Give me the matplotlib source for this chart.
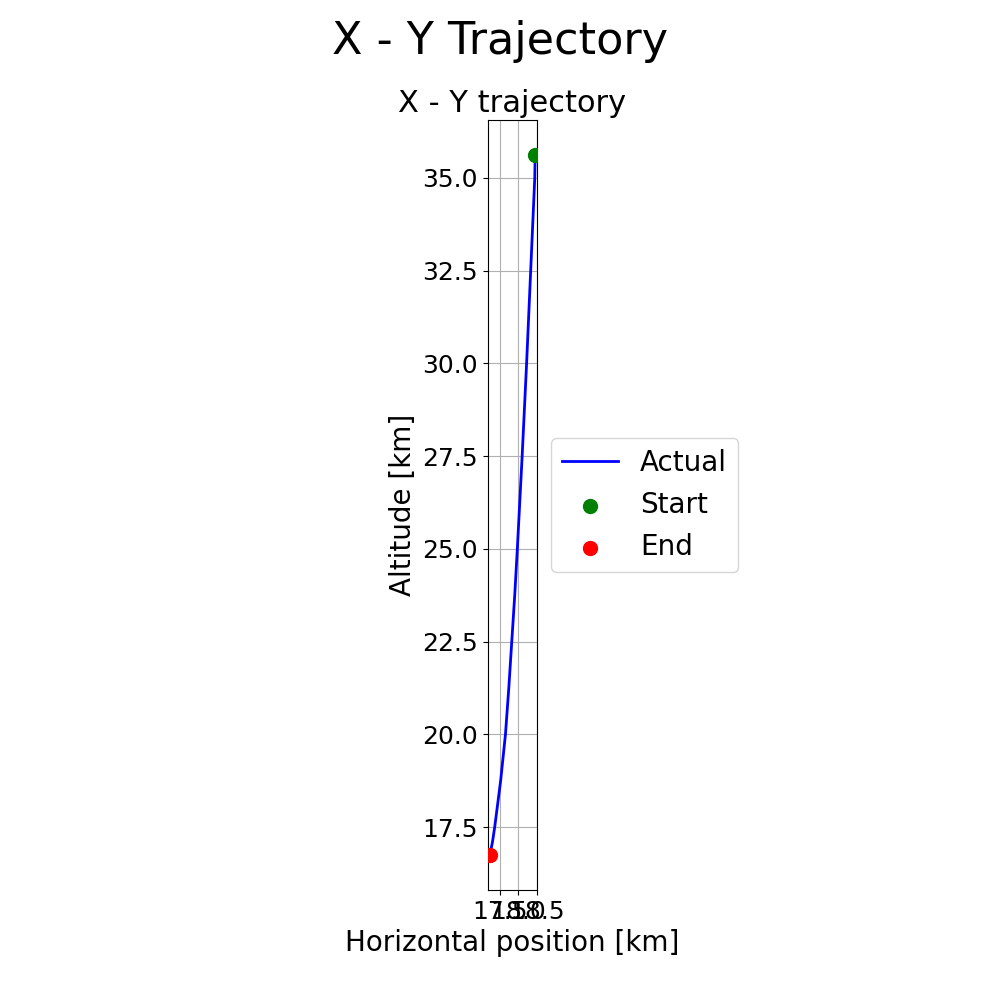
import matplotlib
matplotlib.use("Agg")
import matplotlib.pyplot as plt

# Trajectory (horizontal position vs altitude, km)
altitude_km = [35.62, 35.0, 33.75, 32.5, 31.25, 30.0, 28.75, 27.5, 26.25, 25.0,
               23.75, 22.5, 21.25, 20.0, 18.75, 17.5, 17.1, 16.75]
horizontal_km = [18.45, 18.44, 18.385, 18.33, 18.275, 18.22, 18.16, 18.10, 18.035, 17.97,
                 17.90, 17.82, 17.74, 17.65, 17.52, 17.36, 17.30, 17.23]
x_ticks = [17.5, 18.0, 18.5]

fig = plt.figure(figsize=(10, 10), dpi=100)
ax = fig.add_subplot(111)

ax.plot(horizontal_km, altitude_km, color="blue", linewidth=2, label="Actual")
ax.scatter([horizontal_km[0]], [altitude_km[0]], color="green", s=100, zorder=3, label="Start")
ax.scatter([horizontal_km[-1]], [altitude_km[-1]], color="red", s=100, zorder=3, label="End")

ax.set_aspect("equal")
ax.set_xticks(x_ticks)
ax.grid(True)
ax.tick_params(labelsize=18)
ax.set_xlabel("Horizontal position [km]", fontsize=20)
ax.set_ylabel("Altitude [km]", fontsize=20)
ax.set_title("X - Y trajectory", fontsize=22)
fig.suptitle("X - Y Trajectory", fontsize=32)
ax.legend(loc="center left", bbox_to_anchor=(1, 0.5), fontsize=20)

fig.savefig("out.png", dpi=100)
